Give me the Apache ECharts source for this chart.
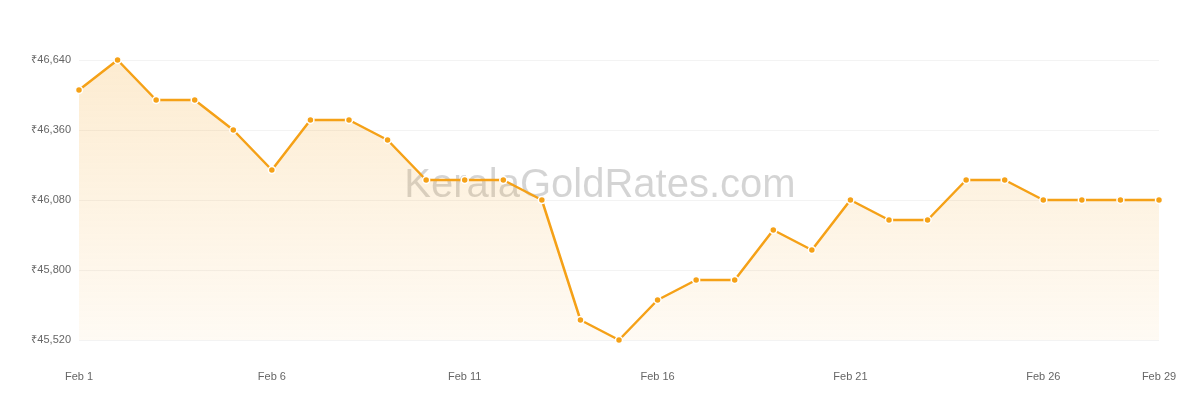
<!DOCTYPE html>
<html>
<head>
<meta charset="utf-8">
<script src="https://cdn.jsdelivr.net/npm/echarts@6/dist/echarts.min.js"></script>
<style>html,body{margin:0;padding:0;background:#fff}#chart{width:1200px;height:400px}</style>
</head>
<body>
<div id="chart"></div>
<script>
var days = [];
for (var d = 1; d <= 29; d++) { days.push('Feb ' + d); }
var shownLabels = ['Feb 1', 'Feb 6', 'Feb 11', 'Feb 16', 'Feb 21', 'Feb 26', 'Feb 29'];
var rates = [46520, 46640, 46480, 46480, 46360, 46200, 46400, 46400, 46320, 46160,
    46160, 46160, 46080, 45600, 45520, 45680, 45760, 45760, 45960, 45880,
    46080, 46000, 46000, 46160, 46160, 46080, 46080, 46080, 46080];

var myChart = echarts.init(document.getElementById('chart'));
var option = {
    animation: false,
    grid: {left: 79, right: 41, top: 60, bottom: 60},
    graphic: [{
        type: 'text', left: 'center', top: 166,
        style: {text: 'KeralaGoldRates.com', fontSize: 40, fill: 'rgba(0,0,0,0.17)',
            fontFamily: 'Liberation Sans, Arial'}
    }],
    xAxis: {
        type: 'category',
        boundaryGap: false,
        data: days,
        axisLine: {show: false},
        axisTick: {show: false},
        axisLabel: {
            color: '#666', fontSize: 11, margin: 31,
            interval: function (i, v) { return shownLabels.indexOf(v) >= 0; }
        }
    },
    yAxis: {
        type: 'value',
        min: 45520, max: 46640, interval: 280,
        axisLine: {show: false},
        axisTick: {show: false},
        splitLine: {lineStyle: {color: '#f3f3f3'}},
        axisLabel: {
            color: '#666', fontSize: 11, margin: 8,
            formatter: function (v) { return '₹' + v.toLocaleString('en-US'); }
        }
    },
    series: [{
        type: 'line',
        data: rates,
        symbol: 'circle',
        symbolSize: 7,
        itemStyle: {color: '#f5a117', borderColor: '#fff', borderWidth: 1.5},
        lineStyle: {color: '#f5a117', width: 2.5},
        areaStyle: {
            color: new echarts.graphic.LinearGradient(0, 0, 0, 1, [
                {offset: 0, color: 'rgba(245,170,50,0.32)'},
                {offset: 1, color: 'rgba(245,170,50,0.08)'}
            ])
        }
    }]
};
option && myChart.setOption(option);
</script>
</body>
</html>
